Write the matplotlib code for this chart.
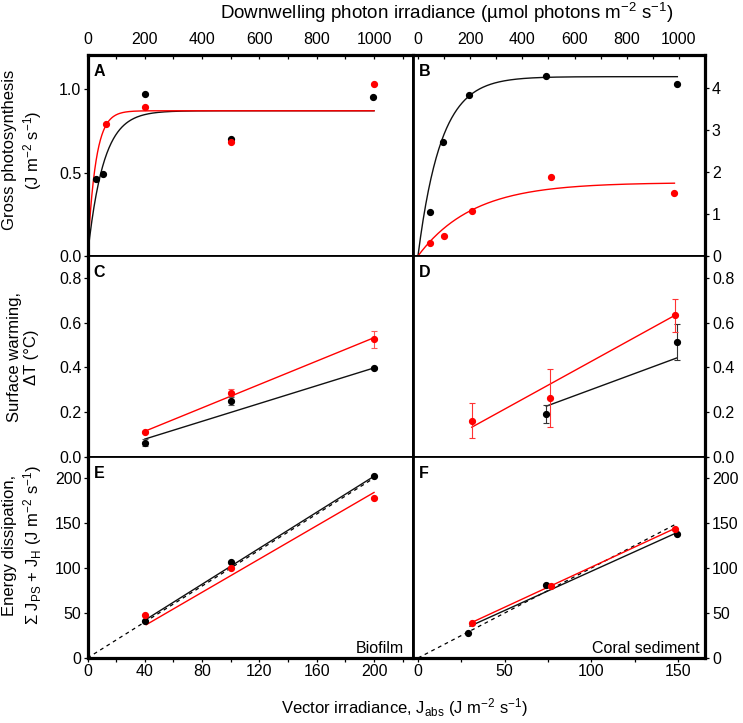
import numpy as np
import matplotlib
matplotlib.use('Agg')
import matplotlib.pyplot as plt
from matplotlib.ticker import MultipleLocator

plt.rcParams['font.family'] = ['Liberation Sans', 'DejaVu Sans']
plt.rcParams['mathtext.fontset'] = 'custom'
plt.rcParams['mathtext.rm'] = 'Liberation Sans'
plt.rcParams['mathtext.it'] = 'Liberation Sans:italic'
plt.rcParams['mathtext.bf'] = 'Liberation Sans:bold'

# ---- data ----
# A: gross photosynthesis, biofilm (x = downwelling photon irradiance)
a_blk_x = [30, 55, 200, 500, 995]
a_blk_y = [0.46, 0.49, 0.97, 0.70, 0.95]
a_red_x = [65, 200, 500, 1000]
a_red_y = [0.79, 0.89, 0.685, 1.03]
a_blk_fit = (0.87, 55)     # Pmax, Ek
a_red_fit = (0.87, 28)

# B: gross photosynthesis, coral sediment
b_blk_x = [48, 95, 195, 491, 994]
b_blk_y = [1.05, 2.72, 3.83, 4.28, 4.10]
b_red_x = [48, 100, 206, 508, 983]
b_red_y = [0.30, 0.48, 1.06, 1.89, 1.51]
b_blk_fit = (4.27, 88)
b_red_fit = (1.75, 210)

# C: surface warming, biofilm (x = vector irradiance)
c_x = [40, 100, 200]
c_blk_y = [0.064, 0.251, 0.398]
c_blk_err = [0.015, 0.018, 0.006]
c_red_y = [0.111, 0.287, 0.526]
c_red_err = [0.006, 0.015, 0.037]
c_blk_line = ([40, 200], [0.08, 0.398])
c_red_line = ([40, 200], [0.115, 0.533])

# D: surface warming, coral sediment
d_blk_x = [74, 149.5]
d_blk_y = [0.192, 0.514]
d_blk_err = [0.039, 0.079]
d_red_x = [31, 76, 148]
d_red_y = [0.162, 0.262, 0.633]
d_red_err = [0.078, 0.13, 0.075]
d_blk_line = ([74, 149.5], [0.227, 0.443])
d_red_line = ([31, 148], [0.133, 0.632])

# E: energy dissipation, biofilm
e_x = [40, 100, 200]
e_blk_y = [41.3, 106.5, 202]
e_red_y = [47.7, 100.2, 177.6]
e_blk_line = ([41, 200], [43, 202])
e_red_line = ([41, 200], [37, 184])
e_one = ([0, 200], [0, 200])

# F: energy dissipation, coral sediment
f_blk_x = [29, 74, 149.5]
f_blk_y = [28.3, 81.6, 137.4]
f_red_x = [31, 76.5, 148]
f_red_y = [38.7, 79.7, 143]
f_blk_line = ([30, 149], [35.4, 139])
f_red_line = ([31, 148], [39.5, 143.8])
f_one = ([0, 149], [0, 149])

RED = '#ff0000'
BLK = '#111111'
W, H = 743, 723
fig = plt.figure(figsize=(W / 100, H / 100), dpi=100)

def px_axes(x0, y0, x1, y1):
    return fig.add_axes([x0 / W, 1 - y1 / H, (x1 - x0) / W, (y1 - y0) / H])

xl, xm, xr = 87.5, 413, 705
rows = [55, 256, 457, 658]
axes = {}
for i, (la, ra) in enumerate([('A', 'B'), ('C', 'D'), ('E', 'F')]):
    axes[la] = px_axes(xl, rows[i], xm, rows[i + 1])
    axes[ra] = px_axes(xm, rows[i], xr, rows[i + 1])

def spines(ax, left, right, top, bottom):
    for side, lw in zip(['left', 'right', 'top', 'bottom'], [left, right, top, bottom]):
        ax.spines[side].set_linewidth(lw)

OUT, VIN, HIN = 2.3, 2.0, 1.3
spines(axes['A'], OUT, VIN, OUT, HIN)
spines(axes['B'], VIN, OUT, OUT, HIN)
spines(axes['C'], OUT, VIN, HIN, HIN)
spines(axes['D'], VIN, OUT, HIN, HIN)
spines(axes['E'], OUT, VIN, HIN, OUT)
spines(axes['F'], VIN, OUT, HIN, OUT)

ms = 4.2
lw = 1.0
TS = 11.5

def pe_curve(ax, fit, xmax, color):
    pmax, ek = fit
    e = np.linspace(0, xmax, 400)
    ax.plot(e, pmax * (1 - np.exp(-e / ek)), color=color, lw=lw, zorder=2)

# A
ax = axes['A']
pe_curve(ax, a_blk_fit, 1000, BLK)
pe_curve(ax, a_red_fit, 1000, RED)
ax.plot(a_blk_x, a_blk_y, 'o', color='k', ms=ms, zorder=3)
ax.plot(a_red_x, a_red_y, 'o', color=RED, ms=ms, zorder=3)
ax.set_xlim(0, 1136)
ax.set_ylim(0, 1.204)
ax.set_yticks([0, 0.5, 1.0])
ax.set_yticklabels(['0.0', '0.5', '1.0'])
ax.set_xticks(range(0, 1001, 200))

# B
ax = axes['B']
pe_curve(ax, b_blk_fit, 994, BLK)
pe_curve(ax, b_red_fit, 983, RED)
ax.plot(b_blk_x, b_blk_y, 'o', color='k', ms=ms, zorder=3)
ax.plot(b_red_x, b_red_y, 'o', color=RED, ms=ms, zorder=3)
ax.set_xlim(-19, 1100)
ax.set_ylim(0, 4.786)
ax.set_yticks([0, 1, 2, 3, 4])
ax.set_xticks(range(0, 1001, 200))
ax.xaxis.set_minor_locator(MultipleLocator(100))

# C
ax = axes['C']
ax.plot(*c_blk_line, color=BLK, lw=lw, zorder=2)
ax.plot(*c_red_line, color=RED, lw=lw, zorder=2)
ax.errorbar(c_x, c_blk_y, yerr=c_blk_err, fmt='o', color='k', ecolor='#555555',
            ms=ms, capsize=2, elinewidth=0.8, capthick=0.8, zorder=3)
ax.errorbar(c_x, c_red_y, yerr=c_red_err, fmt='o', color=RED, ecolor='#ff5555',
            ms=ms, capsize=2, elinewidth=0.8, capthick=0.8, zorder=3)
ax.set_xlim(0, 227.2)
ax.set_ylim(0, 0.898)
ax.set_yticks([0, 0.2, 0.4, 0.6, 0.8])
ax.set_xticks(range(0, 201, 40))

# D
ax = axes['D']
ax.plot(*d_blk_line, color=BLK, lw=lw, zorder=2)
ax.plot(*d_red_line, color=RED, lw=lw, zorder=2)
ax.errorbar(d_blk_x, d_blk_y, yerr=d_blk_err, fmt='o', color='k', ecolor='#333333',
            ms=ms, capsize=2, elinewidth=0.8, capthick=0.8, zorder=3)
ax.errorbar(d_red_x, d_red_y, yerr=d_red_err, fmt='o', color=RED, ecolor='#ff3333',
            ms=ms, capsize=2, elinewidth=0.8, capthick=0.8, zorder=3)
ax.set_xlim(-2.9, 165.6)
ax.set_ylim(0, 0.898)
ax.set_yticks([0, 0.2, 0.4, 0.6, 0.8])
ax.set_xticks(range(0, 151, 25))

# E
ax = axes['E']
ax.plot(*e_one, color='k', lw=0.9, ls=(0, (3, 3)), zorder=2)
ax.plot(*e_blk_line, color=BLK, lw=lw, zorder=2)
ax.plot(*e_red_line, color=RED, lw=lw, zorder=2)
ax.plot(e_x, e_blk_y, 'o', color='k', ms=ms, zorder=3)
ax.plot(e_x, e_red_y, 'o', color=RED, ms=ms, zorder=3)
ax.set_xlim(0, 227.2)
ax.set_ylim(0, 223.4)
ax.set_yticks([0, 50, 100, 150, 200])
ax.set_xticks(range(0, 201, 40))
ax.xaxis.set_minor_locator(MultipleLocator(20))

# F
ax = axes['F']
ax.plot(*f_one, color='k', lw=0.9, ls=(0, (3, 3)), zorder=2)
ax.plot(*f_blk_line, color=BLK, lw=lw, zorder=2)
ax.plot(*f_red_line, color=RED, lw=lw, zorder=2)
ax.plot(f_blk_x, f_blk_y, 'o', color='k', ms=ms, zorder=3)
ax.plot(f_red_x, f_red_y, 'o', color=RED, ms=ms, zorder=3)
ax.set_xlim(-2.9, 165.6)
ax.set_ylim(0, 223.4)
ax.set_yticks([0, 50, 100, 150, 200])
ax.set_xticks([0, 50, 100, 150])
ax.xaxis.set_minor_locator(MultipleLocator(25))

# ticks
for key, ax in axes.items():
    left_col = key in 'ACE'
    bottom_row = key in 'EF'
    ax.tick_params(axis='x', which='both', direction='out', length=3, width=0.9,
                   bottom=True, top=False, labelbottom=bottom_row, labelsize=TS, pad=1.5)
    if left_col:
        ax.tick_params(axis='y', which='both', direction='out', length=3, width=0.9,
                       left=True, right=False, labelleft=True, labelright=False,
                       labelsize=TS, pad=1.5)
    else:
        ax.tick_params(axis='y', which='both', direction='out', length=3, width=0.9,
                       left=False, right=True, labelleft=False, labelright=True,
                       labelsize=TS, pad=2)
    if key in 'AB':
        sec = ax.secondary_xaxis('top')
        sec.set_xticks(range(0, 1001, 200))
        sec.xaxis.set_minor_locator(MultipleLocator(100))
        sec.tick_params(axis='x', which='both', direction='in', length=3, width=0.9,
                        labelsize=TS, pad=6)
        sec.spines['top'].set_visible(False)

# panel letters
for key, ax in axes.items():
    ax.annotate(key, xy=(0, 1), xycoords='axes fraction', xytext=(6, -21),
                textcoords='offset pixels', ha='left', va='baseline',
                fontsize=11.5, fontweight='bold')

axes['E'].annotate('Biofilm', xy=(1, 0), xycoords='axes fraction', xytext=(-9, 5),
                   textcoords='offset pixels', ha='right', va='baseline', fontsize=11.5)
axes['F'].annotate('Coral sediment', xy=(1, 0), xycoords='axes fraction', xytext=(-5, 5),
                   textcoords='offset pixels', ha='right', va='baseline', fontsize=11.5)

# axis labels
fig.text(23 / W, 1 - 150 / H, 'Gross photosynthesis\n(J m$^{-2}$ s$^{-1}$)',
         rotation=90, ha='center', va='center', ma='center', fontsize=12)
fig.text(23 / W, 1 - 357 / H, 'Surface warming,\nΔT (°C)',
         rotation=90, ha='center', va='center', ma='center', fontsize=12)
fig.text(23 / W, 1 - 545 / H,
         'Energy dissipation,\nΣ J$_{\\mathrm{PS}}$ + J$_{\\mathrm{H}}$ (J m$^{-2}$ s$^{-1}$)',
         rotation=90, ha='center', va='center', ma='center', fontsize=12)
fig.text(404 / W, 1 - 708 / H, 'Vector irradiance, J$_{\\mathrm{abs}}$ (J m$^{-2}$ s$^{-1}$)',
         ha='center', va='center', fontsize=12)
fig.text(447 / W, 1 - 13 / H, 'Downwelling photon irradiance (µmol photons m$^{-2}$ s$^{-1}$)',
         ha='center', va='center', fontsize=13.5)

fig.savefig('out.png', dpi=100)
